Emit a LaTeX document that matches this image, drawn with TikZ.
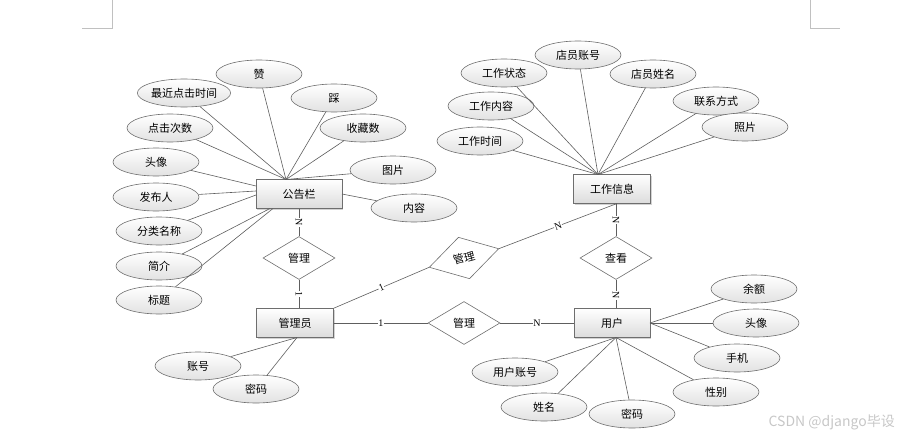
\documentclass[tikz,border=0pt]{standalone}
\usepackage{fontspec}
\setmainfont{Noto Sans CJK SC}
\newfontfamily\cardfont{Liberation Serif}
\usetikzlibrary{shapes.geometric,shadows}
\definecolor{linecol}{HTML}{5E5E5E}
\definecolor{shapeline}{HTML}{6E6E6E}
\definecolor{attrbot}{HTML}{E2E2E2}
\definecolor{entbot}{HTML}{DCDCDC}
\definecolor{markgray}{HTML}{C0C0C0}
\begin{document}
\begin{tikzpicture}[x=1pt,y=-1pt,
  every node/.style={font=\fontsize{11}{13}\selectfont, text=black},
  attr/.style={ellipse, draw=shapeline, line width=0.6pt, top color=white, bottom color=attrbot,
    minimum width=86, minimum height=28, inner sep=0pt},
  ent/.style={rectangle, draw=shapeline, line width=0.6pt, top color=white, bottom color=entbot,
    minimum height=29, inner sep=0pt,
    drop shadow={shadow xshift=1.2pt, shadow yshift=-1.2pt, opacity=0.35}},
  rel/.style={diamond, draw=shapeline, line width=0.6pt, fill=white,
    minimum width=72, minimum height=43, inner sep=0pt},
  conn/.style={draw=linecol, line width=0.6pt},
  card/.style={font=\cardfont\fontsize{10}{10}\selectfont, fill=white, inner sep=0.5pt, sloped, pos=0.5}
]
\useasboundingbox (0,0) rectangle (897,436);

% page corner marks
\draw[markgray, line width=0.6pt] (112,0) -- (112,28) -- (82,28);
\draw[markgray, line width=0.6pt] (810,0) -- (810,28) -- (840,28);

% entities
\node[ent, minimum width=86] (gg) at (299,194) {公告栏};
\node[ent, minimum width=77] (gz) at (612,189) {工作信息};
\node[ent, minimum width=77] (gly) at (295,323) {管理员};
\node[ent, minimum width=76] (yh) at (612,323) {用户};

% relationships
\node[rel] (r1) at (299,258) {管理};
\node[rel, rotate=15] (r2) at (464,258) {管理};
\node[rel] (r3) at (616,258) {查看};
\node[rel] (r4) at (464,323) {管理};

% attributes of 公告栏
\node[attr] (a1) at (259,74) {赞};
\node[attr] (a2) at (184,93) {最近点击时间};
\node[attr] (a3) at (334,98) {踩};
\node[attr] (a4) at (170,128) {点击次数};
\node[attr] (a5) at (363,128) {收藏数};
\node[attr] (a6) at (156,162) {头像};
\node[attr] (a7) at (393,170) {图片};
\node[attr] (a8) at (156,197) {发布人};
\node[attr] (a9) at (414,208) {内容};
\node[attr] (a10) at (159,231) {分类名称};
\node[attr] (a11) at (159,266) {简介};
\node[attr] (a12) at (159,300) {标题};

% attributes of 工作信息
\node[attr] (b1) at (578,55) {店员账号};
\node[attr] (b2) at (504,73) {工作状态};
\node[attr] (b3) at (653,74) {店员姓名};
\node[attr] (b4) at (491,106) {工作内容};
\node[attr] (b5) at (716,101) {联系方式};
\node[attr] (b6) at (480,141) {工作时间};
\node[attr] (b7) at (745,127) {照片};

% attributes of 用户
\node[attr] (c1) at (754,289) {余额};
\node[attr] (c2) at (756,323) {头像};
\node[attr] (c3) at (737,358) {手机};
\node[attr] (c4) at (716,392) {性别};
\node[attr] (c5) at (515,372) {用户账号};
\node[attr] (c6) at (544,407) {姓名};
\node[attr] (c7) at (632,414) {密码};

% attributes of 管理员
\node[attr] (d1) at (198,366) {账号};
\node[attr] (d2) at (256,389) {密码};

% connection points on entities
\coordinate (ggtop) at (286,179.5);
\coordinate (ggl1) at (256,186);
\coordinate (ggl2) at (256,191);
\coordinate (ggl3) at (256,195);
\coordinate (ggb1) at (270,208.5);
\coordinate (ggb2) at (273,208.5);
\coordinate (ggr) at (342,194);
\coordinate (gztop) at (598,174.5);
\coordinate (gzbot) at (617,203.5);
\coordinate (yhr) at (650,323);
\coordinate (yhbot) at (616,337.5);
\coordinate (glybot) at (297,337.5);

% attribute connectors
\foreach \n in {a1,a2,a3,a4,a5,a7} \draw[conn] (\n) -- (ggtop);
\draw[conn] (a6) -- (ggl1);
\draw[conn] (a8) -- (ggl2);
\draw[conn] (a10) -- (ggl3);
\draw[conn] (a11) -- (ggb1);
\draw[conn] (a12) -- (ggb2);
\draw[conn] (a9) -- (ggr);
\foreach \n in {b1,b2,b3,b4,b5,b6,b7} \draw[conn] (\n) -- (gztop);
\foreach \n in {c1,c2,c3} \draw[conn] (\n) -- (yhr);
\foreach \n in {c4,c5,c6,c7} \draw[conn] (\n) -- (yhbot);
\foreach \n in {d1,d2} \draw[conn] (\n) -- (glybot);

% relationship connectors with cardinalities
\draw[conn] (gg.south -| r1) -- node[card] {N} (r1.north);
\draw[conn] (r1.south) -- node[card] {1} (r1.south |- gly.north);
\draw[conn] (gly.north east) -- node[card] {1} (r2.west);
\draw[conn] (r2.east) -- node[card] {N} (gzbot);
\draw[conn] (gz.south -| r3) -- node[card] {N} (r3.north);
\draw[conn] (r3.south) -- node[card, pos=0.55] {N} (r3.south |- yh.north);
\draw[conn] (gly.east) -- node[card] {1} (r4.west);
\draw[conn] (r4.east) -- node[card] {N} (yh.west);

% watermark
\node[text=black!22, font=\fontsize{14}{14}\selectfont, anchor=east, inner sep=0pt] (wm) at (895,422) {CSDN @django毕设};
\end{tikzpicture}
\end{document}
